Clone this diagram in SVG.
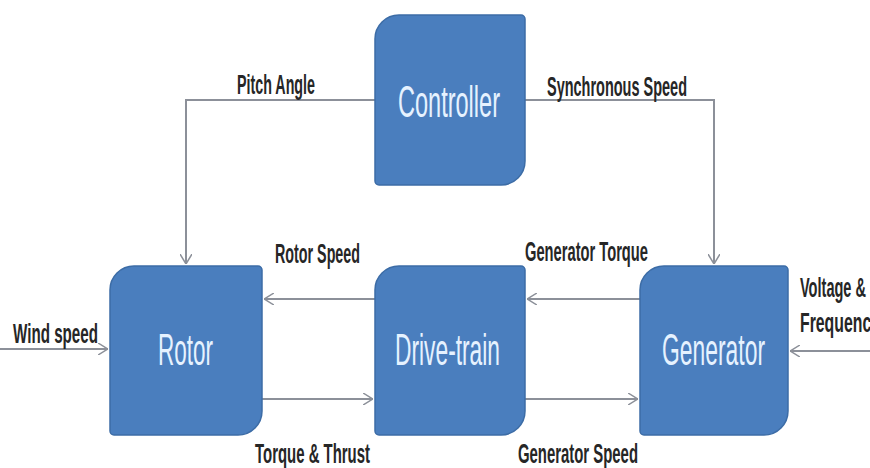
<svg xmlns="http://www.w3.org/2000/svg" width="870" height="468" viewBox="0 0 870 468">
<style>
.box{fill:#4a7ebe;stroke:#3c6ca6;stroke-width:1.5}
.nl{font-family:"Liberation Sans",Arial,sans-serif;font-size:44px;fill:#e6f2ff}
.lb{font-family:"Liberation Sans",Arial,sans-serif;font-size:27px;font-weight:bold;fill:#262626}
.cn{fill:none;stroke:#8c9099;stroke-width:2;marker-end:url(#ah)}
</style>
<defs>
<marker id="ah" viewBox="0 0 10 12" refX="10" refY="6" markerWidth="10" markerHeight="12" markerUnits="userSpaceOnUse" orient="auto">
<path d="M0,0 L10,6 L0,12" fill="none" stroke="#8c9099" stroke-width="1.5"/>
</marker>
</defs>
<rect width="870" height="468" fill="#ffffff"/>
<g id="connectors">
<path class="cn" d="M375,100 H186 V264"/>
<path class="cn" d="M525,100 H714 V264"/>
<path class="cn" d="M375,299 H264"/>
<path class="cn" d="M262,399 H373"/>
<path class="cn" d="M640,299 H527"/>
<path class="cn" d="M525,399 H638"/>
<path class="cn" d="M0,349 H108"/>
<path class="cn" d="M870,351 H790"/>
</g>
<g id="controller">
<path class="box" d="M399,15 H521 A4,4 0 0 1 525,19 V161 A24,24 0 0 1 501,185 H379 A4,4 0 0 1 375,181 V39 A24,24 0 0 1 399,15 Z"/>
<text class="nl" x="398" y="117" textLength="102" lengthAdjust="spacingAndGlyphs">Controller</text>
</g>
<g id="rotor">
<path class="box" d="M134,266 H258 A4,4 0 0 1 262,270 V411 A24,24 0 0 1 238,435 H114 A4,4 0 0 1 110,431 V290 A24,24 0 0 1 134,266 Z"/>
<text class="nl" x="158" y="365" textLength="55" lengthAdjust="spacingAndGlyphs">Rotor</text>
</g>
<g id="drivetrain">
<path class="box" d="M399,266 H521 A4,4 0 0 1 525,270 V411 A24,24 0 0 1 501,435 H379 A4,4 0 0 1 375,431 V290 A24,24 0 0 1 399,266 Z"/>
<text class="nl" x="395" y="365" textLength="105" lengthAdjust="spacingAndGlyphs">Drive-train</text>
</g>
<g id="generator">
<path class="box" d="M664,266 H784 A4,4 0 0 1 788,270 V411 A24,24 0 0 1 764,435 H644 A4,4 0 0 1 640,431 V290 A24,24 0 0 1 664,266 Z"/>
<text class="nl" x="662" y="365" textLength="103" lengthAdjust="spacingAndGlyphs">Generator</text>
</g>
<g id="labels">
<text class="lb" x="237" y="94" textLength="78" lengthAdjust="spacingAndGlyphs">Pitch Angle</text>
<text class="lb" x="547" y="96" textLength="140" lengthAdjust="spacingAndGlyphs">Synchronous Speed</text>
<text class="lb" x="275" y="263" textLength="85" lengthAdjust="spacingAndGlyphs">Rotor Speed</text>
<text class="lb" x="525" y="261" textLength="123" lengthAdjust="spacingAndGlyphs">Generator Torque</text>
<text class="lb" x="255" y="463" textLength="115" lengthAdjust="spacingAndGlyphs">Torque &amp; Thrust</text>
<text class="lb" x="518" y="463" textLength="120" lengthAdjust="spacingAndGlyphs">Generator Speed</text>
<text class="lb" x="13" y="343" textLength="85" lengthAdjust="spacingAndGlyphs">Wind speed</text>
<text class="lb" x="800" y="297" textLength="66" lengthAdjust="spacingAndGlyphs">Voltage &amp;</text>
<text class="lb" x="800" y="332" textLength="80" lengthAdjust="spacingAndGlyphs">Frequency</text>
</g>
</svg>
